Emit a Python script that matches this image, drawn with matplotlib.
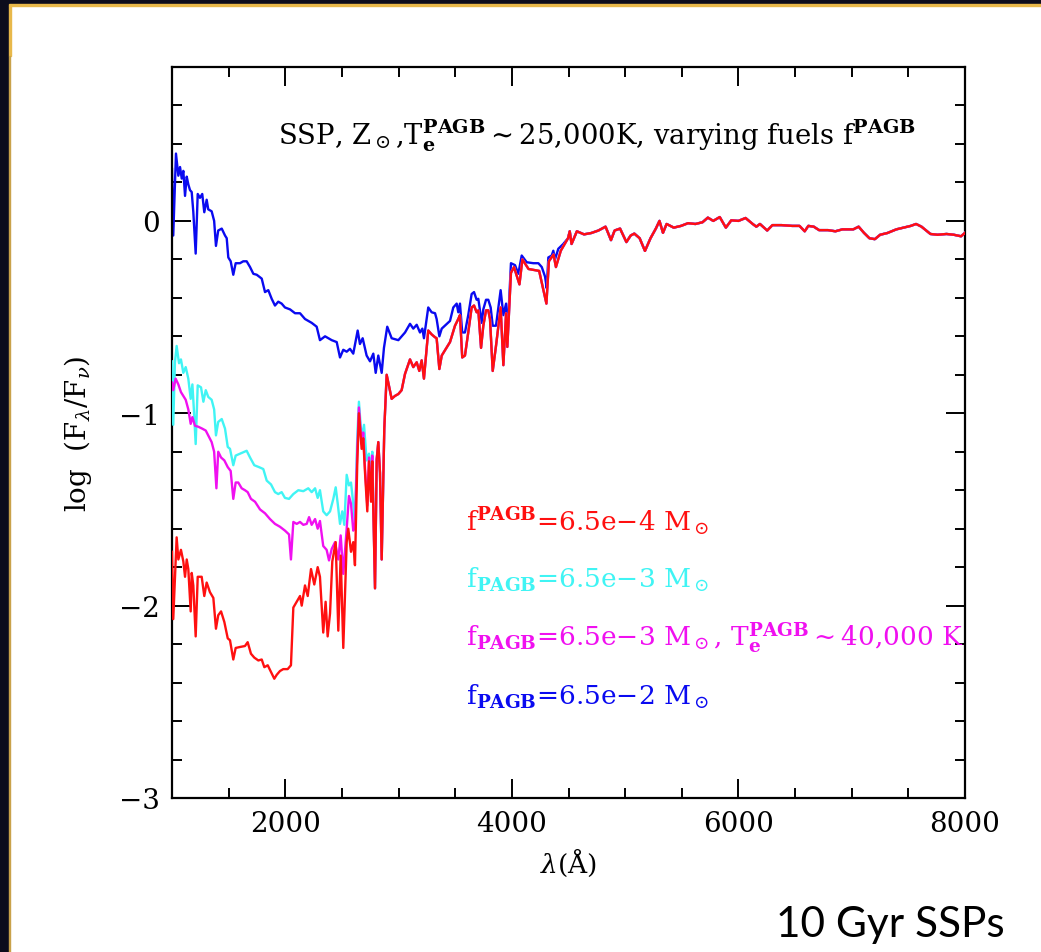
import numpy as np
import matplotlib
matplotlib.use("Agg")
import matplotlib.pyplot as plt
from matplotlib.patches import Rectangle

plt.rcParams['font.family'] = 'DejaVu Serif'
plt.rcParams['mathtext.fontset'] = 'dejavuserif'

# --- spectra (wavelength in A, log Flambda/Fnu) ---
# blue: f_PAGB = 6.5e-2, UV to 4450 A
wl_blue = [1000, 1011, 1035, 1056, 1071, 1086, 1100, 1115, 1130, 1144, 1159, 1174, 1188, 1209,
           1227, 1247, 1267, 1285, 1306, 1320, 1350, 1372, 1388, 1408, 1439, 1468, 1483, 1497,
           1518, 1541, 1562, 1600, 1629, 1659, 1689, 1718, 1748, 1792, 1821, 1850, 1880, 1909,
           1938, 1968, 1997, 2042, 2086, 2130, 2174, 2233, 2277, 2306, 2351, 2410, 2454, 2483,
           2512, 2542, 2571, 2600, 2639, 2659, 2683, 2718, 2748, 2777, 2798, 2821, 2851, 2871,
           2900, 2939, 2998, 3057, 3101, 3130, 3160, 3189, 3210, 3224, 3262, 3292, 3322, 3336,
           3360, 3381, 3454, 3483, 3513, 3527, 3542, 3562, 3586, 3615, 3645, 3666, 3689, 3704,
           3734, 3748, 3772, 3792, 3813, 3831, 3860, 3901, 3925, 3949, 3960, 3992, 4028, 4057,
           4087, 4131, 4190, 4234, 4264, 4293, 4308, 4322, 4352, 4366, 4381, 4410, 4454]
blue = [0.27, -0.076, 0.35, 0.235, 0.28, 0.22, 0.26, 0.13, 0.23, 0.19, 0.16, 0.15, 0.047, -0.17,
        0.14, 0.12, 0.14, 0.045, 0.11, 0.06, 0.05, 0.0, -0.13, -0.05, -0.04, -0.076, -0.09, -0.19,
        -0.21, -0.28, -0.22, -0.22, -0.21, -0.21, -0.24, -0.275, -0.28, -0.30, -0.37, -0.36, -0.405, -0.44,
        -0.42, -0.43, -0.45, -0.46, -0.48, -0.48, -0.51, -0.53, -0.55, -0.62, -0.60, -0.62, -0.63, -0.71,
        -0.67, -0.68, -0.665, -0.69, -0.57, -0.64, -0.61, -0.70, -0.73, -0.69, -0.79, -0.70, -0.79, -0.66,
        -0.55, -0.61, -0.62, -0.58, -0.535, -0.56, -0.54, -0.58, -0.56, -0.61, -0.45, -0.475, -0.48, -0.51,
        -0.60, -0.56, -0.52, -0.45, -0.43, -0.475, -0.43, -0.58, -0.58, -0.49, -0.38, -0.37, -0.41, -0.405,
        -0.53, -0.46, -0.41, -0.41, -0.45, -0.545, -0.545, -0.36, -0.49, -0.43, -0.61, -0.22, -0.23, -0.275,
        -0.18, -0.215, -0.22, -0.22, -0.24, -0.29, -0.35, -0.19, -0.18, -0.155, -0.20, -0.145, -0.12]

# red: f_PAGB = 6.5e-4, UV to 4450 A
wl_red = [1000, 1011, 1041, 1056, 1079, 1100, 1115, 1130, 1144, 1165, 1174, 1188, 1209, 1227,
          1262, 1285, 1306, 1335, 1365, 1388, 1408, 1433, 1462, 1492, 1512, 1541, 1562, 1600,
          1644, 1668, 1697, 1726, 1762, 1792, 1815, 1845, 1874, 1903, 1924, 1953, 1982, 2021,
          2050, 2071, 2101, 2130, 2145, 2174, 2198, 2227, 2256, 2286, 2306, 2335, 2356, 2374,
          2395, 2415, 2445, 2468, 2489, 2512, 2542, 2556, 2580, 2600, 2615, 2635, 2650, 2674,
          2688, 2704, 2724, 2739, 2757, 2768, 2792, 2807, 2821, 2836, 2851, 2874, 2895, 2939,
          2968, 2998, 3027, 3057, 3101, 3130, 3160, 3183, 3204, 3224, 3262, 3292, 3322, 3336,
          3360, 3381, 3454, 3498, 3527, 3542, 3562, 3586, 3615, 3645, 3666, 3689, 3704, 3728,
          3748, 3772, 3792, 3807, 3831, 3860, 3901, 3925, 3949, 3960, 3992, 4019, 4067, 4093,
          4147, 4241, 4305, 4327, 4368, 4389, 4432]
red = [-1.72, -2.07, -1.645, -1.76, -1.71, -1.77, -1.85, -1.76, -1.81, -2.03, -1.83, -1.895, -2.16, -1.85,
       -1.85, -1.95, -1.88, -1.93, -1.96, -2.12, -2.05, -2.03, -2.085, -2.17, -2.18, -2.28, -2.22, -2.215,
       -2.21, -2.19, -2.25, -2.27, -2.285, -2.28, -2.32, -2.31, -2.345, -2.38, -2.36, -2.34, -2.33, -2.33,
       -2.31, -2.01, -1.98, -1.95, -2.0, -1.895, -1.95, -1.81, -1.89, -1.80, -1.85, -2.14, -1.98, -2.16,
       -2.04, -1.77, -1.67, -2.13, -1.74, -2.22, -1.67, -1.60, -1.72, -1.67, -1.79, -1.27, -1.00, -1.185,
       -1.13, -1.31, -1.51, -1.25, -1.46, -1.25, -1.91, -1.24, -1.15, -1.31, -1.76, -1.08, -0.80, -0.925,
       -0.91, -0.90, -0.88, -0.795, -0.72, -0.76, -0.735, -0.78, -0.725, -0.82, -0.57, -0.59, -0.605, -0.61,
       -0.77, -0.70, -0.63, -0.545, -0.51, -0.49, -0.71, -0.70, -0.58, -0.45, -0.44, -0.475, -0.465, -0.66,
       -0.545, -0.465, -0.465, -0.51, -0.78, -0.65, -0.45, -0.75, -0.48, -0.655, -0.27, -0.24, -0.33, -0.20,
       -0.25, -0.26, -0.43, -0.21, -0.175, -0.24, -0.155]

# cyan: f_PAGB = 6.5e-3, UV part (joins the red spectrum above 2780 A)
wl_cyan = [1000, 1011, 1026, 1041, 1062, 1079, 1100, 1121, 1144, 1165, 1180, 1194, 1209, 1227,
           1256, 1277, 1298, 1320, 1350, 1372, 1388, 1408, 1439, 1468, 1492, 1512, 1541, 1562,
           1600, 1638, 1659, 1689, 1726, 1768, 1806, 1836, 1874, 1909, 1938, 1968, 1997, 2033,
           2071, 2115, 2159, 2203, 2233, 2263, 2286, 2306, 2335, 2365, 2395, 2424, 2445, 2463,
           2483, 2503, 2521, 2542, 2562, 2580, 2600, 2615, 2635, 2650, 2674, 2695, 2718, 2739,
           2757, 2768]
cyan = [-0.73, -1.06, -0.735, -0.65, -0.74, -0.72, -0.79, -0.76, -0.82, -0.925, -0.85, -0.99, -1.16, -0.855,
        -0.865, -0.94, -0.88, -0.915, -0.93, -0.98, -1.115, -1.045, -1.03, -1.08, -1.175, -1.185, -1.27, -1.22,
        -1.21, -1.20, -1.195, -1.23, -1.27, -1.28, -1.29, -1.35, -1.37, -1.41, -1.42, -1.41, -1.44, -1.445,
        -1.42, -1.40, -1.405, -1.39, -1.41, -1.39, -1.44, -1.40, -1.51, -1.53, -1.51, -1.445, -1.385, -1.47,
        -1.575, -1.51, -1.58, -1.32, -1.375, -1.36, -1.47, -1.57, -1.13, -0.94, -1.13, -1.06, -1.245, -1.21,
        -1.31, -1.20]

# magenta: f_PAGB = 6.5e-3, Te = 40,000 K, UV part
wl_mag = [1000, 1011, 1032, 1056, 1079, 1100, 1121, 1144, 1165, 1180, 1203, 1232, 1267, 1298,
          1320, 1350, 1372, 1392, 1408, 1433, 1462, 1492, 1518, 1541, 1562, 1585, 1615, 1644,
          1668, 1697, 1733, 1777, 1821, 1865, 1909, 1953, 1997, 2033, 2050, 2071, 2101, 2130,
          2159, 2189, 2210, 2233, 2263, 2286, 2306, 2335, 2365, 2386, 2410, 2439, 2468, 2489,
          2512, 2542, 2562, 2580, 2600, 2615, 2635, 2650, 2674, 2688, 2704, 2724, 2739, 2757,
          2768]
mag = [-0.84, -0.88, -0.82, -0.85, -0.89, -0.91, -0.93, -0.98, -1.055, -1.02, -1.065, -1.07, -1.08, -1.09,
       -1.115, -1.15, -1.20, -1.39, -1.20, -1.23, -1.245, -1.28, -1.30, -1.445, -1.36, -1.36, -1.39, -1.40,
       -1.41, -1.445, -1.46, -1.50, -1.52, -1.55, -1.575, -1.59, -1.61, -1.63, -1.76, -1.565, -1.575, -1.565,
       -1.58, -1.575, -1.54, -1.58, -1.55, -1.60, -1.56, -1.69, -1.71, -1.765, -1.705, -1.67, -1.76, -1.635,
       -1.835, -1.60, -1.43, -1.47, -1.61, -1.585, -1.20, -0.97, -1.16, -1.10, -1.29, -1.48, -1.23, -1.43,
       -1.22]

# optical part shared by all four models
wl_opt = [4496, 4511, 4527, 4574, 4637, 4701, 4764, 4827, 4875, 4907, 4955, 5011, 5049, 5081,
          5128, 5175, 5224, 5271, 5303, 5334, 5366, 5429, 5493, 5555, 5620, 5683, 5730, 5778,
          5835, 5889, 5937, 6000, 6063, 6126, 6158, 6190, 6254, 6300, 6380, 6475, 6539, 6585,
          6617, 6665, 6712, 6790, 6856, 6918, 7014, 7061, 7108, 7156, 7204, 7251, 7315, 7394,
          7457, 7521, 7568, 7616, 7695, 7758, 7837, 7901, 7965, 8000]
opt = [-0.09, -0.054, -0.12, -0.054, -0.07, -0.063, -0.05, -0.03, -0.10, -0.05, -0.04, -0.11, -0.076, -0.066,
       -0.09, -0.156, -0.09, -0.04, 0.0, -0.062, -0.016, -0.035, -0.026, -0.012, -0.016, -0.007, 0.017, 0.0,
       0.02, -0.035, 0.003, 0.0, 0.015, -0.016, -0.03, -0.016, -0.05, -0.022, -0.022, -0.026, -0.026, -0.054,
       -0.026, -0.03, -0.048, -0.048, -0.054, -0.044, -0.044, -0.03, -0.062, -0.09, -0.095, -0.072, -0.063, -0.044,
       -0.035, -0.026, -0.016, -0.03, -0.068, -0.072, -0.068, -0.072, -0.08, -0.062]

labels = [r'f$^{\mathbf{PAGB}}$=6.5e$-$4 M$_\odot$',
          r'f$_{\mathbf{PAGB}}$=6.5e$-$3 M$_\odot$',
          r'f$_{\mathbf{PAGB}}$=6.5e$-$3 M$_\odot$, T$_{\mathbf{e}}^{\mathbf{PAGB}}$$\sim$40,000 K',
          r'f$_{\mathbf{PAGB}}$=6.5e$-$2 M$_\odot$']
colors = ['#ff1010', '#40f4f4', '#f010f0', '#0a0af0']

wl_red_a = np.array(wl_red)
red_a = np.array(red)
tail = wl_red_a > 2780

def series(wl_uv, val_uv):
    # UV part of its own, then the shared red spectrum beyond 2780 A
    x = list(wl_uv) + list(wl_red_a[tail])
    y = list(val_uv) + list(red_a[tail])
    return np.array(x + wl_opt), np.array(y + opt)

xb, yb = np.array(wl_blue + wl_opt), np.array(blue + opt)
xr, yr = np.array(wl_red + wl_opt), np.array(red + opt)
xc, yc = series(wl_cyan, cyan)
xm, ym = series(wl_mag, mag)

fig = plt.figure(figsize=(10.41, 9.53), dpi=100)
fig.patch.set_facecolor('white')

# slide frame
W, H = 1041.0, 953.0
fig.add_artist(Rectangle((0, 0), 9 / W, 1, transform=fig.transFigure, color='#0c0c1c', zorder=0))
fig.add_artist(Rectangle((0, 1 - 6 / H), 1, 6 / H, transform=fig.transFigure, color='#0c0c1c', zorder=0))
fig.add_artist(Rectangle((9 / W, 1 - 7 / H), 1, 1.6 / H, transform=fig.transFigure, color='#e8b84a', zorder=1))
fig.add_artist(Rectangle((9 / W, 1 - 57 / H), 2.2 / W, 50 / H, transform=fig.transFigure, color='#e8b84a', zorder=1))
fig.add_artist(Rectangle((9 / W, 0), 1.0 / W, 1 - 57 / H, transform=fig.transFigure, color='#c9a24a', zorder=1))

ax = fig.add_axes([172 / W, 1 - 799 / H, (965 - 172) / W, (799 - 68) / H])

ax.plot(xb, yb, color=colors[3], lw=1.7, zorder=2)
ax.plot(xc, yc, color=colors[1], lw=1.7, zorder=3)
ax.plot(xm, ym, color=colors[2], lw=1.7, zorder=4)
ax.plot(xr, yr, color=colors[0], lw=1.7, zorder=5)

ax.set_xlim(1000, 8000)
ax.set_ylim(-3, 0.8)
ax.set_xticks([2000, 4000, 6000, 8000])
ax.set_xticks(np.arange(1500, 8000, 500), minor=True)
ax.set_yticks([-3, -2, -1, 0])
ax.set_yticklabels(['\u22123', '\u22122', '\u22121', '0'])
ax.set_yticks(np.arange(-2.8, 0.8, 0.2), minor=True)
ax.tick_params(which='both', direction='in', top=True, right=True, width=1.4, labelsize=20)
ax.tick_params(which='major', length=14, pad=9)
ax.tick_params(which='minor', length=7)
for s in ax.spines.values():
    s.set_linewidth(1.6)

ax.set_xlabel(r'$\lambda$(Å)', fontsize=19, labelpad=6)
ax.set_ylabel(r'log  (F$_\lambda$/F$_\nu$)', fontsize=20, labelpad=18)

ax.text(0.134, 0.908, r'SSP, Z$_\odot$,T$_{\mathbf{e}}^{\mathbf{PAGB}}$$\sim$25,000K, varying fuels f$^{\mathbf{PAGB}}$',
        transform=ax.transAxes, fontsize=19.8, va='center', ha='left')

ypos = [0.379, 0.300, 0.220, 0.140]
for lab, c, yy in zip(labels, colors, ypos):
    ax.text(0.371, yy, lab, color=c, transform=ax.transAxes, fontsize=19, va='center', ha='left')

fig.text(1005 / W, 1 - 925 / H, '10 Gyr SSPs', fontsize=30.5, family='Lato', ha='right', va='center')

fig.savefig('out.png', dpi=100, facecolor=fig.get_facecolor())
